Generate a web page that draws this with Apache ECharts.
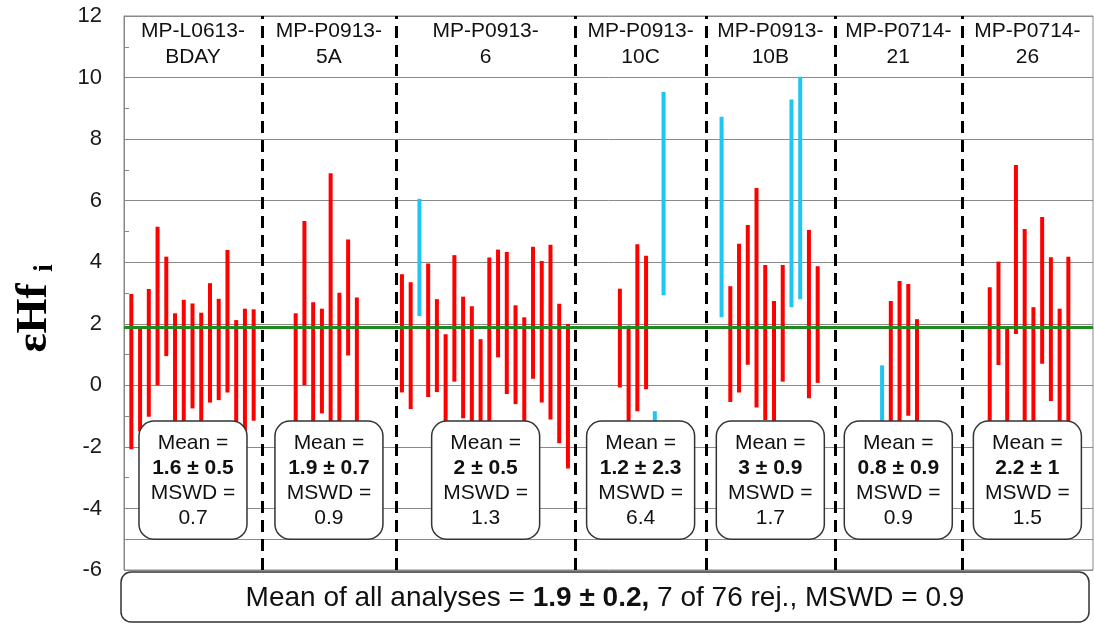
<!DOCTYPE html>
<html><head><meta charset="utf-8">
<script src="https://cdn.jsdelivr.net/npm/echarts@6/dist/echarts.min.js"></script>
<style>html,body{margin:0;padding:0;background:#fff}#c{width:1094px;height:623px}</style>
</head><body><div id="c"></div>
<script>
// ---- data ----
const groupNames = ['MP-L0613-\nBDAY','MP-P0913-\n5A','MP-P0913-\n6','MP-P0913-\n10C','MP-P0913-\n10B','MP-P0714-\n21','MP-P0714-\n26'];
const groupStart = [0.84, 19.65, 31.81, 56.75, 68.39, 86.76, 99.08];   // x of first analysis in each sample
const separators = [15.79, 31.12, 51.66, 66.59, 81.35, 95.88];
const xMax = 110.9;
const groupMean = ['1.6 ± 0.5','1.9 ± 0.7','2 ± 0.5','1.2 ± 2.3','3 ± 0.9','0.8 ± 0.9','2.2 ± 1'];
const groupMSWD = ['0.7','0.9','1.3','6.4','1.7','0.9','1.5'];

const high1 = [2.97,1.90,3.13,5.15,4.18,2.34,2.78,2.66,2.36,3.32,2.81,4.40,2.12,2.49,2.47];
const low1  = [-2.08,-1.5,-1.02,0.00,0.95,-1.4,-1.3,-0.75,-1.3,-0.56,-0.48,-0.23,-1.61,-1.5,-1.15];
const high2 = [2.34,5.34,2.70,2.49,6.89,3.01,4.74,2.85];
const low2  = [-1.4,0.00,-1.3,-0.91,-1.5,-1.4,0.97,-1.4];
const high3 = [3.61,3.35,6.06,3.96,2.80,1.66,4.23,2.88,2.57,1.50,4.15,4.41,4.33,2.60,2.21,4.50,4.04,4.57,2.65,1.99];
const low3  = [-0.23,-0.77,2.25,-0.38,-0.22,-1.4,0.12,-1.07,-1.4,-1.4,-1.5,0.91,-0.28,-0.61,-1.3,0.21,-0.56,-1.11,-1.88,-2.70];
const high4 = [3.14,1.94,4.58,4.21,-0.84,9.53];
const low4  = [-0.07,-1.5,-0.84,-0.13,-1.5,2.93];
const high5 = [8.73,3.22,4.60,5.21,6.41,3.91,2.74,3.91,9.29,10.03,5.05,3.87];
const low5  = [2.21,-0.54,-0.23,0.67,-0.72,-1.13,-1.4,0.12,2.54,2.80,-0.42,0.08];
const high6 = [0.65,2.74,3.39,3.29,2.15];
const low6  = [-1.5,-1.5,-1.4,-0.99,-1.5];
const high7 = [3.19,4.02,1.90,7.16,5.08,2.54,5.47,4.16,2.49,4.18];
const low7  = [-1.4,0.66,-1.4,1.67,-1.4,-1.4,0.70,-0.51,-1.4,-1.4];
// rejected analyses (index within sample)
const rejected = [[],[],[2],[4,5],[0,8,9],[0],[]];

const overallMean = 1.9;
const overallText = ['Mean of all analyses = ', '1.9 ± 0.2,', ' 7 of 76 rej., MSWD = 0.9'];
const yMin = -6, yMax = 12, yStep = 2;
const refLine = -5;

// ---- build ----
const highs = [high1,high2,high3,high4,high5,high6,high7];
const lows  = [low1,low2,low3,low4,low5,low6,low7];
const barData = [];
highs.forEach((hs,g)=>{
  hs.forEach((h,j)=>{
    barData.push([groupStart[g]+j, lows[g][j], h, rejected[g].includes(j)?1:0]);
  });
});
const edges = [0].concat(separators, [xMax]);
const centers = groupNames.map((_,i)=>(edges[i]+edges[i+1])/2);
const boxData = centers.map((c,i)=>[c, i]);

const RED = '#ff0000', CYAN = '#1ec6f2', GREEN = '#1f8a1f';
const FONT = '"Liberation Sans", Arial, sans-serif';
const SERIF = '"Liberation Serif", "Times New Roman", serif';

const chart = echarts.init(document.getElementById('c'), null, {renderer:'canvas'});
chart.setOption({
  animation:false,
  grid:{left:124, right:1, top:16, bottom:53, show:true, borderColor:'#888', borderWidth:1},
  xAxis:{type:'value', min:0, max:xMax, show:false},
  yAxis:{type:'value', min:yMin, max:yMax, interval:yStep,
    axisLine:{show:true, lineStyle:{color:'#888', width:1}},
    axisTick:{show:true, inside:true, length:5, lineStyle:{color:'#888'}},
    minorTick:{show:true, splitNumber:2, length:5, lineStyle:{color:'#888'}},
    splitLine:{show:true, lineStyle:{color:'#8a8a8a', width:1}},
    axisLabel:{color:'#1a1a1a', fontSize:22, fontFamily:FONT, margin:22}
  },
  graphic:[
    {type:'group', x:34, y:312, rotation:Math.PI/2, children:[
      {type:'text', x:-6, y:0, style:{text:'εHf', font:'bold 45px '+SERIF, fill:'#000', align:'center', verticalAlign:'middle'}},
      {type:'text', x:44, y:11, style:{text:'i', font:'bold 27px '+SERIF, fill:'#000', align:'center', verticalAlign:'middle'}}
    ]},
    {type:'rect', z:100, shape:{x:121, y:572, width:968, height:50, r:10}, style:{fill:'#fff', stroke:'#333', lineWidth:1.5}},
    {type:'text', z:101, x:605, y:598, style:{
      text:'{n|'+overallText[0]+'}{b|'+overallText[1]+'}{n|'+overallText[2]+'}',
      align:'center', verticalAlign:'middle',
      rich:{n:{fontSize:28, fontFamily:FONT, fill:'#111'}, b:{fontSize:28, fontFamily:FONT, fontWeight:'bold', fill:'#111'}}
    }}
  ],
  series:[
    {type:'custom', z:2, data:barData, encode:{x:0, y:[1,2]},
      renderItem:(params, api)=>{
        const x = api.value(0), lo = api.value(1), hi = api.value(2), rej = api.value(3);
        const p1 = api.coord([x, hi]), p2 = api.coord([x, lo]);
        return {type:'rect', shape:{x:p1[0]-2, y:p1[1], width:4, height:p2[1]-p1[1]}, style:{fill: rej ? CYAN : RED}};
      },
      markLine:{silent:true, symbol:['none','none'], label:{show:false}, z:3,
        data:[
          {yAxis:refLine, lineStyle:{color:'#8a8a8a', width:1, type:'solid'}},
          {yAxis:overallMean, lineStyle:{color:GREEN, width:3, type:'solid'}}
        ].concat(separators.map(s=>({xAxis:s, lineStyle:{color:'#000', width:3, type:[12,7]}})))
      }
    },
    {type:'custom', z:5, data:boxData, encode:{x:0},
      renderItem:(params, api)=>{
        const c = api.value(0), i = api.value(1);
        const top = api.coord([c, -1.16]), bot = api.coord([c, -5]);
        const w = 108;
        const head = api.coord([c, yMax]);
        return {type:'group', children:[
          {type:'rect', shape:{x:top[0]-w/2, y:top[1], width:w, height:bot[1]-top[1], r:15}, style:{fill:'#fff', stroke:'#333', lineWidth:1.5}},
          {type:'text', x:top[0], y:(top[1]+bot[1])/2+1, style:{
            text:'{n|Mean =}\n{b|'+groupMean[i]+'}\n{n|MSWD =}\n{n|'+groupMSWD[i]+'}',
            align:'center', verticalAlign:'middle',
            rich:{n:{fontSize:21, fontFamily:FONT, fill:'#111', lineHeight:25}, b:{fontSize:21, fontFamily:FONT, fontWeight:'bold', fill:'#111', lineHeight:25}}
          }},
          {type:'text', x:head[0], y:head[1]+2, style:{
            text:groupNames[i], align:'center', verticalAlign:'top',
            fontSize:21, fontFamily:FONT, fill:'#111', lineHeight:26
          }}
        ]};
      }
    }
  ]
});
</script></body></html>
